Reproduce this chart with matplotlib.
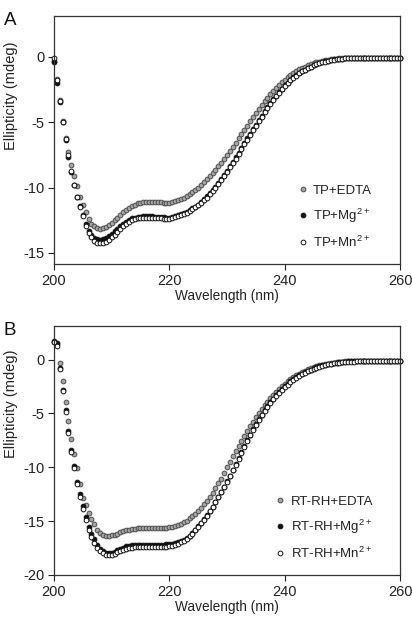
"""Far-UV CD spectra of TP and RT-RH in presence of EDTA, Mg2+ or Mn2+."""

import numpy as np
import matplotlib
matplotlib.use('Agg')
import matplotlib.pyplot as plt

plt.rcParams['font.family'] = ['Liberation Sans', 'DejaVu Sans']
plt.rcParams['mathtext.default'] = 'regular'
plt.rcParams['axes.unicode_minus'] = False

# wavelength grid of the spectrometer (0.5 nm steps)
wavelength = np.arange(200.0, 260.01, 0.5)

a_edta = [
    -0.3, -1.7, -3.3, -4.9, -6.2, -7.3, -8.3, -9.1, -9.9, -10.7,
    -11.3, -11.9, -12.4, -12.75, -12.95, -13.1, -13.15, -13.1, -13.0, -12.85,
    -12.7, -12.5, -12.3, -12.1, -11.9, -11.7, -11.55, -11.4, -11.3, -11.2,
    -11.15, -11.12, -11.1, -11.1, -11.1, -11.1, -11.12, -11.14, -11.15, -11.15,
    -11.15, -11.1, -11.05, -10.98, -10.9, -10.78, -10.65, -10.5, -10.35, -10.18,
    -10.0, -9.8, -9.6, -9.38, -9.15, -8.9, -8.65, -8.38, -8.1, -7.8,
    -7.5, -7.2, -6.9, -6.58, -6.25, -5.92, -5.6, -5.28, -4.95, -4.62,
    -4.3, -4.0, -3.7, -3.42, -3.15, -2.88, -2.6, -2.38, -2.15, -1.95,
    -1.75, -1.57, -1.4, -1.25, -1.1, -0.97, -0.85, -0.75, -0.65, -0.57,
    -0.5, -0.44, -0.38, -0.33, -0.28, -0.24, -0.2, -0.17, -0.15, -0.13,
    -0.12, -0.1, -0.1, -0.1, -0.1, -0.1, -0.1, -0.1, -0.1, -0.1,
    -0.1, -0.1, -0.1, -0.1, -0.1, -0.1, -0.1, -0.1, -0.1, -0.1,
    -0.1,
]
a_mg = [
    -0.4, -2.0, -3.5, -5.0, -6.4, -7.7, -8.8, -9.8, -10.7, -11.4,
    -12.1, -12.8, -13.3, -13.65, -13.85, -13.95, -14.0, -13.95, -13.85, -13.7,
    -13.55, -13.35, -13.15, -12.95, -12.75, -12.6, -12.45, -12.35, -12.3, -12.25,
    -12.22, -12.2, -12.2, -12.2, -12.2, -12.22, -12.24, -12.26, -12.28, -12.3,
    -12.3, -12.25, -12.2, -12.13, -12.05, -11.95, -11.85, -11.73, -11.6, -11.45,
    -11.3, -11.1, -10.9, -10.68, -10.45, -10.2, -9.95, -9.65, -9.35, -9.03,
    -8.7, -8.38, -8.05, -7.7, -7.35, -6.98, -6.6, -6.25, -5.9, -5.55,
    -5.2, -4.85, -4.5, -4.18, -3.85, -3.55, -3.25, -2.98, -2.7, -2.45,
    -2.2, -1.98, -1.75, -1.58, -1.4, -1.25, -1.1, -0.98, -0.85, -0.75,
    -0.65, -0.56, -0.48, -0.41, -0.35, -0.3, -0.25, -0.21, -0.18, -0.16,
    -0.14, -0.12, -0.11, -0.1, -0.1, -0.1, -0.1, -0.1, -0.1, -0.1,
    -0.1, -0.1, -0.1, -0.1, -0.1, -0.1, -0.1, -0.1, -0.1, -0.1,
    -0.1,
]
a_mn = [
    -0.1, -1.8, -3.4, -5.0, -6.3, -7.5, -8.7, -9.8, -10.7, -11.5,
    -12.2, -12.9, -13.45, -13.8, -14.05, -14.2, -14.25, -14.25, -14.15, -14.0,
    -13.8, -13.6, -13.4, -13.15, -12.95, -12.75, -12.6, -12.5, -12.4, -12.35,
    -12.33, -12.3, -12.3, -12.3, -12.3, -12.32, -12.34, -12.36, -12.37, -12.38,
    -12.38, -12.33, -12.27, -12.2, -12.12, -12.02, -11.92, -11.8, -11.67, -11.52,
    -11.37, -11.18, -10.98, -10.76, -10.53, -10.28, -10.02, -9.73, -9.43, -9.11,
    -8.78, -8.45, -8.12, -7.78, -7.43, -7.06, -6.68, -6.33, -5.98, -5.63,
    -5.28, -4.93, -4.58, -4.25, -3.92, -3.61, -3.31, -3.03, -2.76, -2.5,
    -2.25, -2.02, -1.8, -1.62, -1.44, -1.28, -1.13, -1.0, -0.88, -0.77,
    -0.67, -0.58, -0.5, -0.43, -0.37, -0.31, -0.26, -0.22, -0.19, -0.17,
    -0.15, -0.13, -0.12, -0.11, -0.1, -0.1, -0.1, -0.1, -0.1, -0.1,
    -0.1, -0.1, -0.1, -0.1, -0.1, -0.1, -0.1, -0.1, -0.1, -0.1,
    -0.1,
]

b_edta = [
    1.6, 1.4, -0.3, -2.0, -3.9, -5.7, -7.4, -8.8, -10.1, -11.6,
    -12.9, -13.5, -14.2, -14.8, -15.3, -15.8, -16.1, -16.25, -16.35, -16.35,
    -16.3, -16.25, -16.15, -16.05, -15.95, -15.85, -15.8, -15.75, -15.7, -15.65,
    -15.6, -15.6, -15.6, -15.6, -15.6, -15.6, -15.6, -15.6, -15.6, -15.6,
    -15.55, -15.5, -15.45, -15.35, -15.25, -15.1, -14.95, -14.75, -14.55, -14.3,
    -14.05, -13.75, -13.45, -13.1, -12.75, -12.35, -11.95, -11.5, -11.05, -10.55,
    -10.0, -9.5, -9.0, -8.5, -8.0, -7.55, -7.1, -6.65, -6.2, -5.77,
    -5.35, -4.97, -4.6, -4.25, -3.9, -3.6, -3.3, -3.02, -2.75, -2.5,
    -2.25, -2.02, -1.8, -1.62, -1.45, -1.3, -1.15, -1.02, -0.9, -0.8,
    -0.7, -0.62, -0.55, -0.48, -0.42, -0.37, -0.32, -0.28, -0.25, -0.22,
    -0.2, -0.18, -0.17, -0.16, -0.15, -0.15, -0.15, -0.15, -0.15, -0.15,
    -0.15, -0.15, -0.15, -0.15, -0.15, -0.15, -0.15, -0.15, -0.15, -0.15,
    -0.15,
]
b_mg = [
    1.7, 1.5, -0.8, -2.8, -4.7, -6.6, -8.4, -9.9, -11.4, -12.5,
    -13.6, -14.6, -15.5, -16.2, -16.7, -17.2, -17.55, -17.8, -17.95, -18.0,
    -17.95, -17.85, -17.7, -17.55, -17.45, -17.35, -17.3, -17.25, -17.2, -17.2,
    -17.2, -17.2, -17.2, -17.2, -17.2, -17.2, -17.2, -17.2, -17.2, -17.15,
    -17.12, -17.08, -17.02, -16.95, -16.85, -16.72, -16.55, -16.35, -16.1, -15.8,
    -15.45, -15.15, -14.8, -14.45, -14.05, -13.65, -13.2, -12.75, -12.3, -11.8,
    -11.3, -10.8, -10.25, -9.7, -9.15, -8.6, -8.05, -7.5, -6.98, -6.48,
    -6.0, -5.55, -5.12, -4.72, -4.33, -3.97, -3.63, -3.32, -3.03, -2.76,
    -2.5, -2.26, -2.04, -1.84, -1.65, -1.48, -1.32, -1.18, -1.05, -0.93,
    -0.82, -0.72, -0.63, -0.55, -0.48, -0.42, -0.37, -0.32, -0.28, -0.25,
    -0.22, -0.2, -0.18, -0.17, -0.16, -0.15, -0.15, -0.15, -0.15, -0.15,
    -0.15, -0.15, -0.15, -0.15, -0.15, -0.15, -0.15, -0.15, -0.15, -0.15,
    -0.15,
]
b_mn = [
    1.6, 1.3, -0.9, -2.9, -4.9, -6.8, -8.6, -10.1, -11.6, -12.8,
    -13.9, -14.9, -15.8, -16.5, -17.0, -17.45, -17.75, -17.95, -18.1, -18.15,
    -18.15, -18.05, -17.9, -17.75, -17.65, -17.55, -17.5, -17.45, -17.42, -17.4,
    -17.4, -17.4, -17.4, -17.4, -17.4, -17.4, -17.4, -17.4, -17.4, -17.38,
    -17.34, -17.28, -17.2, -17.1, -16.98, -16.82, -16.62, -16.4, -16.15, -15.85,
    -15.52, -15.2, -14.86, -14.5, -14.1, -13.7, -13.26, -12.8, -12.34, -11.85,
    -11.35, -10.85, -10.3, -9.75, -9.2, -8.65, -8.1, -7.56, -7.04, -6.54,
    -6.06, -5.6, -5.18, -4.78, -4.39, -4.03, -3.69, -3.38, -3.09, -2.82,
    -2.56, -2.32, -2.1, -1.9, -1.71, -1.54, -1.38, -1.24, -1.1, -0.98,
    -0.87, -0.77, -0.68, -0.6, -0.53, -0.46, -0.41, -0.36, -0.32, -0.28,
    -0.25, -0.23, -0.21, -0.2, -0.19, -0.18, -0.18, -0.17, -0.17, -0.17,
    -0.17, -0.17, -0.17, -0.17, -0.17, -0.17, -0.17, -0.17, -0.17, -0.17,
    -0.17,
]

a_labels = ['TP+EDTA', 'TP+Mg$^{2+}$', 'TP+Mn$^{2+}$']
b_labels = ['RT-RH+EDTA', 'RT-RH+Mg$^{2+}$', 'RT-RH+Mn$^{2+}$']
x_ticks = [200, 220, 240, 260]
a_yticks = [0, -5, -10, -15]
b_yticks = [0, -5, -10, -15, -20]

# (face, edge) for EDTA, Mg, Mn
marker_styles = [('#a6a6a6', '#4d4d4d'), ('#111111', '#111111'), ('white', '#111111')]
text_color = '#222222'


def plot_panel(ax, series, labels, ylim, yticks, letter, legend_anchor, ylabel_y):
    for values, label, (face, edge) in zip(series, labels, marker_styles):
        ax.plot(wavelength, values, linestyle='none', marker='o', markersize=3.4,
                markerfacecolor=face, markeredgecolor=edge, markeredgewidth=0.7,
                label=label, clip_on=False)
    ax.set_xlim(200, 260)
    ax.set_ylim(*ylim)
    ax.set_xticks(x_ticks)
    ax.set_yticks(yticks)
    ax.tick_params(direction='out', length=4, width=0.8, labelsize=10.5, colors=text_color, pad=3)
    for spine in ax.spines.values():
        spine.set_linewidth(0.9)
        spine.set_color('#333333')
    ax.set_xlabel('Wavelength (nm)', fontsize=9.8, color=text_color, labelpad=1)
    ax.set_ylabel('Ellipticity (mdeg)', fontsize=10.5, color=text_color)
    ax.yaxis.set_label_coords(-0.104, ylabel_y)
    legend = ax.legend(loc='lower left', bbox_to_anchor=legend_anchor, frameon=False,
                       fontsize=9.5, markerscale=1.0, handlelength=0.6, handletextpad=0.5,
                       labelspacing=0.75, borderpad=0.2)
    for text in legend.get_texts():
        text.set_color(text_color)
    ax.text(-0.145, 0.984, letter, transform=ax.transAxes, fontsize=13.5, color='#111111',
            ha='left', va='center')


fig = plt.figure(figsize=(4.12, 6.2), dpi=100)
ax_a = fig.add_axes([0.131, 0.574, 0.840, 0.400])
ax_b = fig.add_axes([0.131, 0.0726, 0.840, 0.4014])

plot_panel(ax_a, [a_edta, a_mg, a_mn], a_labels, (-15.85, 3.1), a_yticks, 'A', (0.68, 0.02), 0.677)
plot_panel(ax_b, [b_edta, b_mg, b_mn], b_labels, (-20, 3.1), b_yticks, 'B', (0.615, 0.02), 0.687)

fig.savefig('out.png', dpi=100)
plt.close(fig)
